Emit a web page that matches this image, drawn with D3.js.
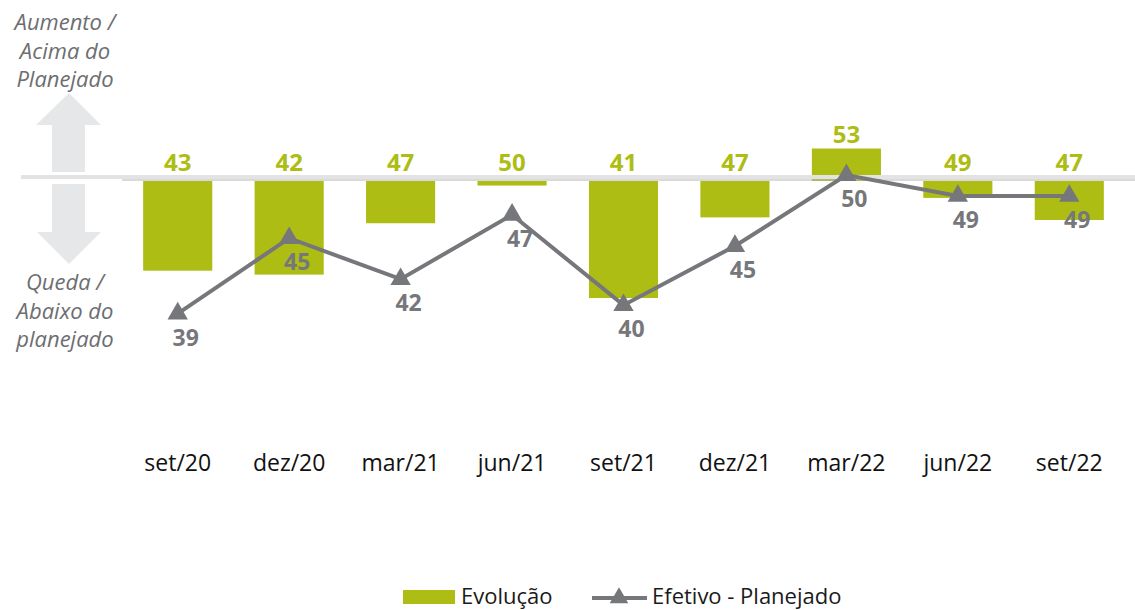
<!DOCTYPE html>
<html>
<head>
<meta charset="utf-8">
<script src="https://cdn.jsdelivr.net/npm/d3@7"></script>
<style>
  body { margin: 0; background: #fff; }
  svg text { font-family: "Open Sans", sans-serif; }
</style>
</head>
<body>
<svg id="chart" width="1135" height="610"></svg>
<script>
/// Data ///
const categories = ["set/20", "dez/20", "mar/21", "jun/21", "set/21", "dez/21", "mar/22", "jun/22", "set/22"];
// bars: Evolução (deviation vs planned)
const barValues = [-6.9, -7.2, -3.25, -0.35, -9.0, -2.8, 2.5, -1.3, -3.0];
const barLabels = [43, 42, 47, 50, 41, 47, 53, 49, 47];
// line: Efetivo - Planejado
const lineValues = [-10.2, -4.4, -7.55, -2.6, -9.55, -5.0, 0.45, -1.15, -1.15];
const lineLabels = [39, 45, 42, 47, 40, 45, 50, 49, 49];
const upText = ["Aumento /", "Acima do", "Planejado"];
const downText = ["Queda /", "Abaixo do", "planejado"];
const legendNames = ["Evolução", "Efetivo - Planejado"];

// Colours
const green = "#adbd14";
const gray = "#76777b";
const arrowGray = "#e6e7e8";

/// Chart ///
const svg = d3.select("#chart");

const x = d3.scaleBand()
    .domain(categories)
    .range([122, 1125])
    .paddingInner(0.38)
    .paddingOuter(0.19);

const y = d3.scaleLinear()
    .domain([-10, 3])
    .range([181 + 130, 181 - 39]);

// side arrows (decoration)
const arrows = svg.append("g").attr("fill", arrowGray);
arrows.append("path").attr("d", "M69,93 L101,125 L85,125 L85,172 L52,172 L52,125 L36,125 Z");
arrows.append("path").attr("d", "M52,184 L85,184 L85,232 L101,232 L69,264 L37,232 L52,232 Z");

// side texts
const sideText = svg.append("g")
    .attr("fill", "#6d6e71")
    .attr("font-style", "italic")
    .attr("font-size", "22px")
    .attr("text-anchor", "middle");
sideText.selectAll(".up").data(upText).enter().append("text")
    .attr("x", 65).attr("y", (d, i) => 30 + i * 28.5).text(d => d);
sideText.selectAll(".down").data(downText).enter().append("text")
    .attr("x", 65).attr("y", (d, i) => 290 + i * 28.5).text(d => d);

// bars
svg.append("g").selectAll("rect")
    .data(barValues)
    .enter().append("rect")
        .attr("x", (d, i) => x(categories[i]))
        .attr("width", x.bandwidth())
        .attr("y", d => y(Math.max(0, d)))
        .attr("height", d => Math.abs(y(d) - y(0)))
        .attr("fill", green);

// zero line
svg.append("line")
    .attr("x1", 21).attr("x2", 1135)
    .attr("y1", 177).attr("y2", 177)
    .attr("stroke", "#e3e3e3").attr("stroke-width", 4);
svg.append("line")
    .attr("x1", 122).attr("x2", 1135)
    .attr("y1", 180).attr("y2", 180)
    .attr("stroke", "#b5b5b5").attr("stroke-width", 1);

// bar labels
svg.append("g").selectAll("text")
    .data(barValues)
    .enter().append("text")
        .attr("x", (d, i) => x(categories[i]) + x.bandwidth() / 2)
        .attr("y", d => y(Math.max(0, d)) - (d > 0 ? 6 : 10))
        .attr("text-anchor", "middle")
        .attr("font-size", "24px")
        .attr("font-weight", "bold")
        .attr("fill", green)
        .text((d, i) => barLabels[i]);

// line
const cx = c => x(c) + x.bandwidth() / 2;
const line = d3.line()
    .x((d, i) => cx(categories[i]))
    .y(d => y(d));
svg.append("path")
    .datum(lineValues)
    .attr("d", line)
    .attr("fill", "none")
    .attr("stroke", gray)
    .attr("stroke-width", 4)
    .attr("stroke-linejoin", "miter");

svg.append("g").selectAll("path")
    .data(lineValues)
    .enter().append("path")
        .attr("d", d3.symbol(d3.symbolTriangle, 180))
        .attr("transform", (d, i) => "translate(" + cx(categories[i]) + "," + y(d) + ")")
        .attr("fill", gray);

svg.append("g").selectAll("text")
    .data(lineValues)
    .enter().append("text")
        .attr("x", (d, i) => cx(categories[i]) + 8)
        .attr("y", d => y(d) + 32)
        .attr("text-anchor", "middle")
        .attr("font-size", "23px")
        .attr("font-weight", "bold")
        .attr("fill", gray)
        .text((d, i) => lineLabels[i]);

// x axis
const xAxis = svg.append("g")
    .attr("transform", "translate(0,455)")
    .call(d3.axisBottom(x).tickSize(0).tickPadding(0));
xAxis.select(".domain").remove();
xAxis.selectAll("text")
    .attr("font-size", "23px")
    .attr("font-family", "Open Sans, sans-serif")
    .attr("fill", "#111");

// legend
const legend = svg.append("g")
    .attr("font-size", "22px")
    .attr("fill", "#1a1a1a");
legend.append("rect")
    .attr("x", 403).attr("y", 590)
    .attr("width", 52).attr("height", 14)
    .attr("fill", green);
legend.append("text")
    .attr("x", 461).attr("y", 603.5)
    .text(legendNames[0]);
legend.append("line")
    .attr("x1", 592).attr("x2", 647)
    .attr("y1", 598).attr("y2", 598)
    .attr("stroke", gray).attr("stroke-width", 4);
legend.append("path")
    .attr("d", d3.symbol(d3.symbolTriangle, 150))
    .attr("transform", "translate(619,598)")
    .attr("fill", gray);
legend.append("text")
    .attr("x", 652).attr("y", 603.5)
    .text(legendNames[1]);
</script>
</body>
</html>
